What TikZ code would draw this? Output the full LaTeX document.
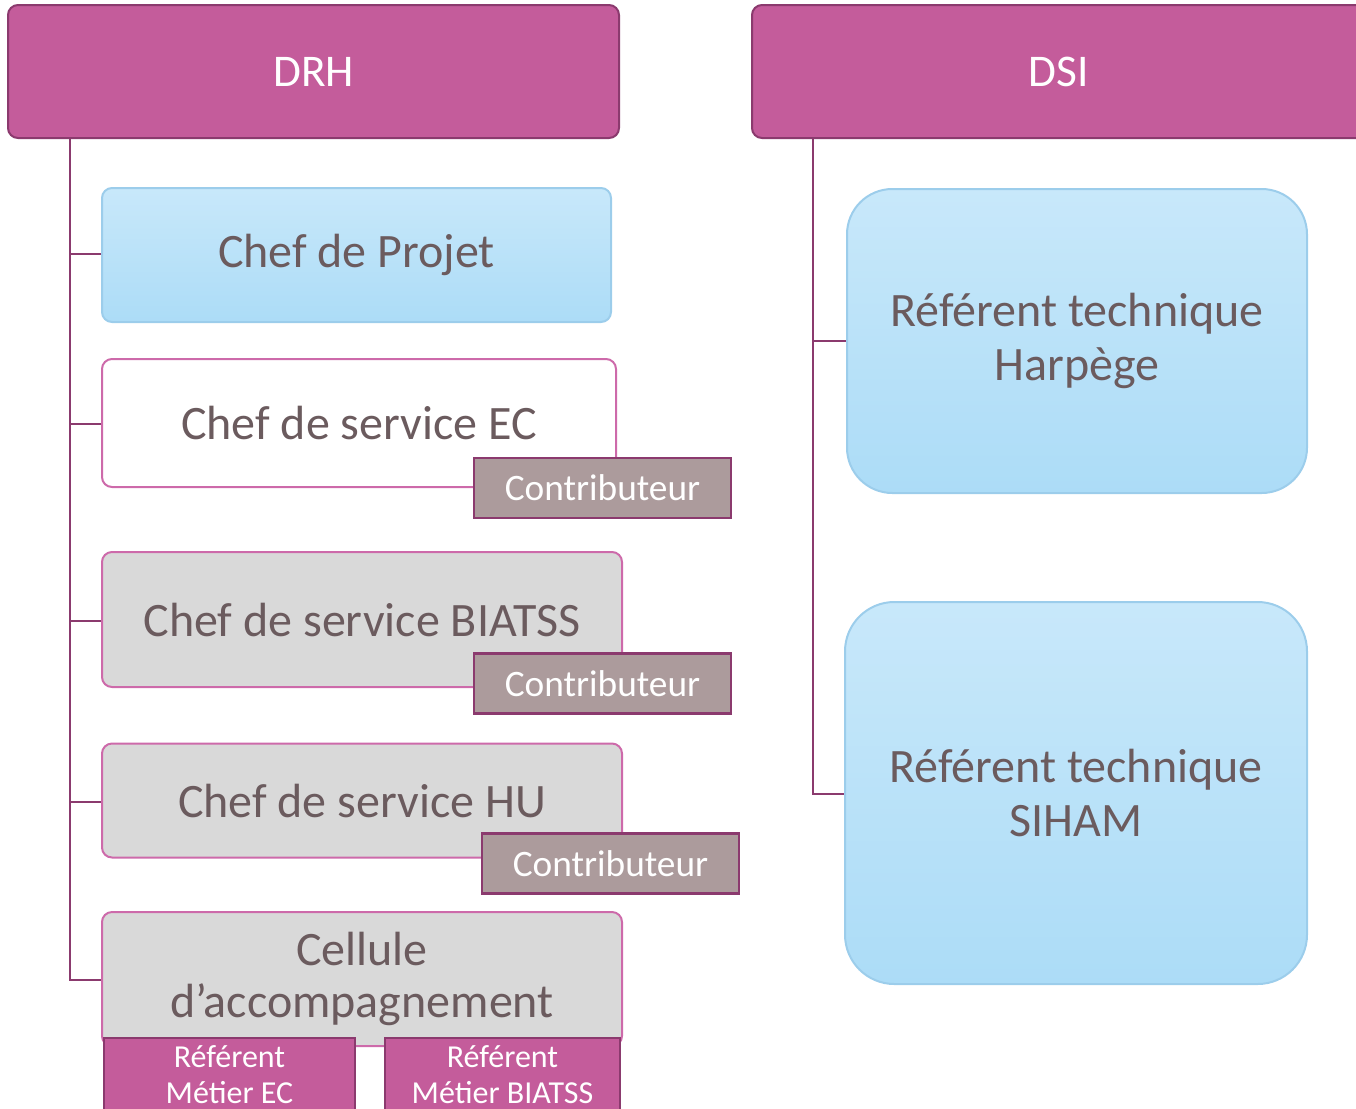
\documentclass[tikz,border=0pt]{standalone}
\usepackage{fontspec}
\setmainfont{Carlito}
\definecolor{magfill}{HTML}{C45C9B}
\definecolor{magdark}{HTML}{8B3A6E}
\definecolor{magline}{HTML}{CD6AAA}
\definecolor{txtgray}{HTML}{6B5B5E}
\definecolor{contribfill}{HTML}{AC9B9C}
\definecolor{greyfill}{HTML}{D9D9D9}
\definecolor{bluetop}{HTML}{C8E8FA}
\definecolor{bluebot}{HTML}{ACDCF7}
\definecolor{blueline}{HTML}{9CCDEB}

\begin{document}
\begin{tikzpicture}[x=0.75pt, y=-0.75pt,
    topbox/.style={draw=magdark, fill=magfill, line width=1.5pt, rounded corners=7.5pt,
        inner sep=0pt, text=white, font=\fontsize{34}{40}\selectfont},
    bluebox/.style={draw=blueline, top color=bluetop, bottom color=bluebot, line width=1.5pt,
        inner sep=0pt, text=txtgray, align=center, font=\fontsize{36}{40}\selectfont},
    servbox/.style={draw=magline, fill=greyfill, line width=1.5pt, rounded corners=7.5pt,
        inner sep=0pt, text=txtgray, align=center, font=\fontsize{36}{39}\selectfont},
    contrib/.style={draw=magdark, fill=contribfill, line width=2pt, inner sep=0pt,
        minimum width=192.75pt, minimum height=45pt, text=white, font=\fontsize{28}{32}\selectfont},
    refbox/.style={draw=magdark, fill=magfill, line width=2pt, inner sep=0pt,
        minimum height=55.5pt, text=white, align=center, font=\fontsize{24}{27}\selectfont},
    trunk/.style={draw=magdark, line width=1.8pt}
]
    \useasboundingbox (0,0) rectangle (1356,1108);

    % Top headers
    \node[topbox, minimum width=458.25pt, minimum height=99.75pt] (drh) at (313.5,71.5) {DRH};
    \node[topbox, minimum width=460.5pt, minimum height=99.75pt] (dsi) at (1059,71.5) {DSI};

    % Root points of the trees
    \coordinate (drhroot) at (70,138);
    \coordinate (dsiroot) at (813,138);

    % DRH branches
    \draw[trunk] (drhroot) |- (102,254)
                 (drhroot) |- (102,424)
                 (drhroot) |- (102,621)
                 (drhroot) |- (102,802)
                 (drhroot) |- (102,980);

    % DSI branches
    \draw[trunk] (dsiroot) |- (847,341)
                 (dsiroot) |- (845,794);

    % DRH boxes
    \node[bluebox, rounded corners=7.5pt, minimum width=381.75pt, minimum height=100.5pt] (projet) at (356.5,255) {Chef de Projet};
    \node[servbox, fill=white, minimum width=385.5pt, minimum height=96pt] (servec) at (359,423) {Chef de service EC};
    \node[servbox, minimum width=390pt, minimum height=101.25pt] (servbiatss) at (362,619.5) {Chef de service BIATSS};
    \node[servbox, minimum width=390pt, minimum height=85.5pt] (servhu) at (362,800.5) {Chef de service HU};
    \node[servbox, minimum width=390pt, minimum height=100.5pt] (cellule) at (362,979) {Cellule\\d’accompagnement};

    % Contributor tags
    \node[contrib] (contribec) at (602.5,488) {Contributeur};
    \node[contrib] (contribbiatss) at (602.5,683.5) {Contributeur};
    \node[contrib] (contribhu) at (610.5,863.5) {Contributeur};

    % Referents of the cellule
    \node[refbox, minimum width=188.25pt] (refec) at (229.5,1075) {Référent\\Métier EC};
    \node[refbox, minimum width=176.25pt] (refbiatss) at (502.5,1075) {Référent\\Métier BIATSS};

    % DSI boxes
    \node[bluebox, rounded corners=34pt, minimum width=345pt, minimum height=228pt] (harpege) at (1077,341) {Référent technique\\Harpège};
    \node[bluebox, rounded corners=37pt, minimum width=346.5pt, minimum height=286.5pt] (siham) at (1076,793) {Référent technique\\SIHAM};
\end{tikzpicture}
\end{document}
